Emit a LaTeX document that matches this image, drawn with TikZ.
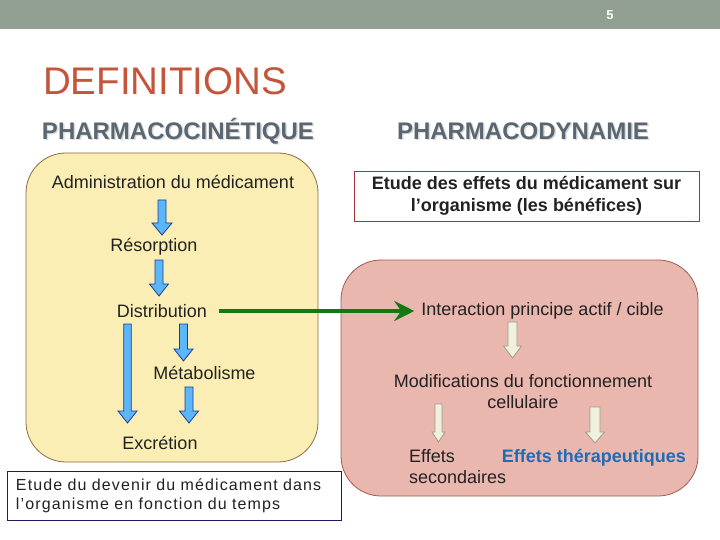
\documentclass[tikz,border=0pt]{standalone}
\usepackage{fontspec}
\setmainfont{Liberation Sans}
\usetikzlibrary{arrows.meta}
\definecolor{barcol}{HTML}{92A094}
\definecolor{defcol}{HTML}{C4553B}
\definecolor{headcol}{HTML}{5B6770}
\definecolor{shadowcol}{HTML}{D8DCDD}
\definecolor{yfill}{HTML}{FBEEB4}
\definecolor{ydraw}{HTML}{8C6B45}
\definecolor{pfill}{HTML}{E9B7AE}
\definecolor{pdraw}{HTML}{A25A50}
\definecolor{txtcol}{HTML}{222222}
\definecolor{bluefill}{HTML}{5CB6FA}
\definecolor{bluedraw}{HTML}{1C3C9C}
\definecolor{creamfill}{HTML}{F0F0DC}
\definecolor{creamdraw}{HTML}{9C9C8A}
\definecolor{greencol}{HTML}{127812}
\definecolor{navy}{HTML}{1C1C60}
\definecolor{redbox}{HTML}{A8323C}
\definecolor{effblue}{HTML}{1F6CB4}
\newcommand{\blkarrow}[7]{%
  \draw[#7] (#1-#4,#2) -- (#1+#4,#2) -- (#1+#4,#3-#6) -- (#1+#5,#3-#6) -- (#1,#3)
    -- (#1-#5,#3-#6) -- (#1-#4,#3-#6) -- cycle;}
\begin{document}
\begin{tikzpicture}[x=1pt,y=-1pt,
  bodytxt/.style={inner sep=0pt, text=txtcol, font=\fontsize{18}{21}\selectfont},
  headtxt/.style={inner sep=0pt, font=\fontsize{24}{26}\selectfont\bfseries},
  bluearrow/.style={fill=bluefill, draw=bluedraw, line width=0.8pt, line join=miter},
  creamarrow/.style={fill=creamfill, draw=creamdraw, line width=0.8pt, line join=miter},
  roundbox/.style={rounded corners=40pt, line width=0.8pt}]
\useasboundingbox (0,0) rectangle (720,540);
\fill[barcol] (0,0) rectangle (720,29);
\node[text=white, inner sep=0pt, font=\fontsize{13}{15}\selectfont\bfseries] (pg) at (610,15) {5};
\node[anchor=west, inner sep=0pt, text=defcol, font=\fontsize{38.5}{42}\selectfont] (def) at (43,81) {DEFINITIONS};
% headings with light shadow
\node[headtxt, text=shadowcol] (pkshadow) at (179.5,132.5) {PHARMACOCINÉTIQUE};
\node[headtxt, text=headcol] (pk) at (178,131) {PHARMACOCINÉTIQUE};
\node[headtxt, text=shadowcol] (pdshadow) at (524.5,132.5) {PHARMACODYNAMIE};
\node[headtxt, text=headcol] (pd) at (523,131) {PHARMACODYNAMIE};
% boxes
\draw[roundbox, fill=yfill, draw=ydraw] (26,153) rectangle (318,462);
\draw[roundbox, fill=pfill, draw=pdraw] (341,260) rectangle (698,496);
% left column
\node[bodytxt] (admin) at (173,182) {Administration du médicament};
\node[bodytxt] (resorp) at (154,247) {Résorption};
\node[bodytxt] (distr) at (162,311) {Distribution};
\node[bodytxt] (metab) at (204.5,373) {Métabolisme};
\node[bodytxt] (excr) at (160,443) {Excrétion};
\blkarrow{162}{200}{235}{4}{10}{12}{bluearrow}
\blkarrow{159}{260}{296}{4}{9.5}{12}{bluearrow}
\blkarrow{127.5}{324}{423}{3.8}{9.5}{12}{bluearrow}
\blkarrow{183.5}{324}{361}{4}{9.5}{12}{bluearrow}
\blkarrow{189}{387}{423}{4}{9.5}{12}{bluearrow}
\node[draw=navy, line width=0.9pt, fill=white, text=txtcol, minimum width=334pt, minimum height=49pt,
  inner xsep=9pt, text width=316pt, align=left,
  font=\fontsize{16}{19}\selectfont\addfontfeature{LetterSpace=7}] (pkdef) at (174,495.5)
  {Etude du devenir du médicament dans\\l’organisme en fonction du temps};
% right column
\node[draw=redbox, line width=0.9pt, fill=white, text=txtcol, minimum width=345pt, minimum height=50pt,
  align=center, font=\fontsize{18}{22}\selectfont\bfseries] (pddef) at (526.5,196)
  {Etude des effets du médicament sur\\l’organisme (les bénéfices)};
\node[bodytxt] (inter) at (542.5,311) {Interaction principe actif / cible};
\node[bodytxt, align=center] (modif) at (523,391.5) {Modifications du fonctionnement\\cellulaire};
\node[bodytxt, anchor=west, align=left] (effsec) at (409,466.5) {Effets\\secondaires};
\node[inner sep=0pt, text=effblue, font=\fontsize{18}{20}\selectfont\bfseries] (effther) at (594,458) {Effets thérapeutiques};
\blkarrow{512.5}{322}{358}{4.5}{9}{12}{creamarrow}
\blkarrow{438.5}{404}{442}{3.5}{6.5}{10}{creamarrow}
\blkarrow{595}{407}{443}{5}{9.5}{11}{creamarrow}
% green connector
\draw[greencol, line width=4pt, shorten <=12pt, shorten >=7pt,
  -{Stealth[length=20pt, width=20pt, inset=7pt]}] (distr.east) -- (inter.west);
\end{tikzpicture}
\end{document}
